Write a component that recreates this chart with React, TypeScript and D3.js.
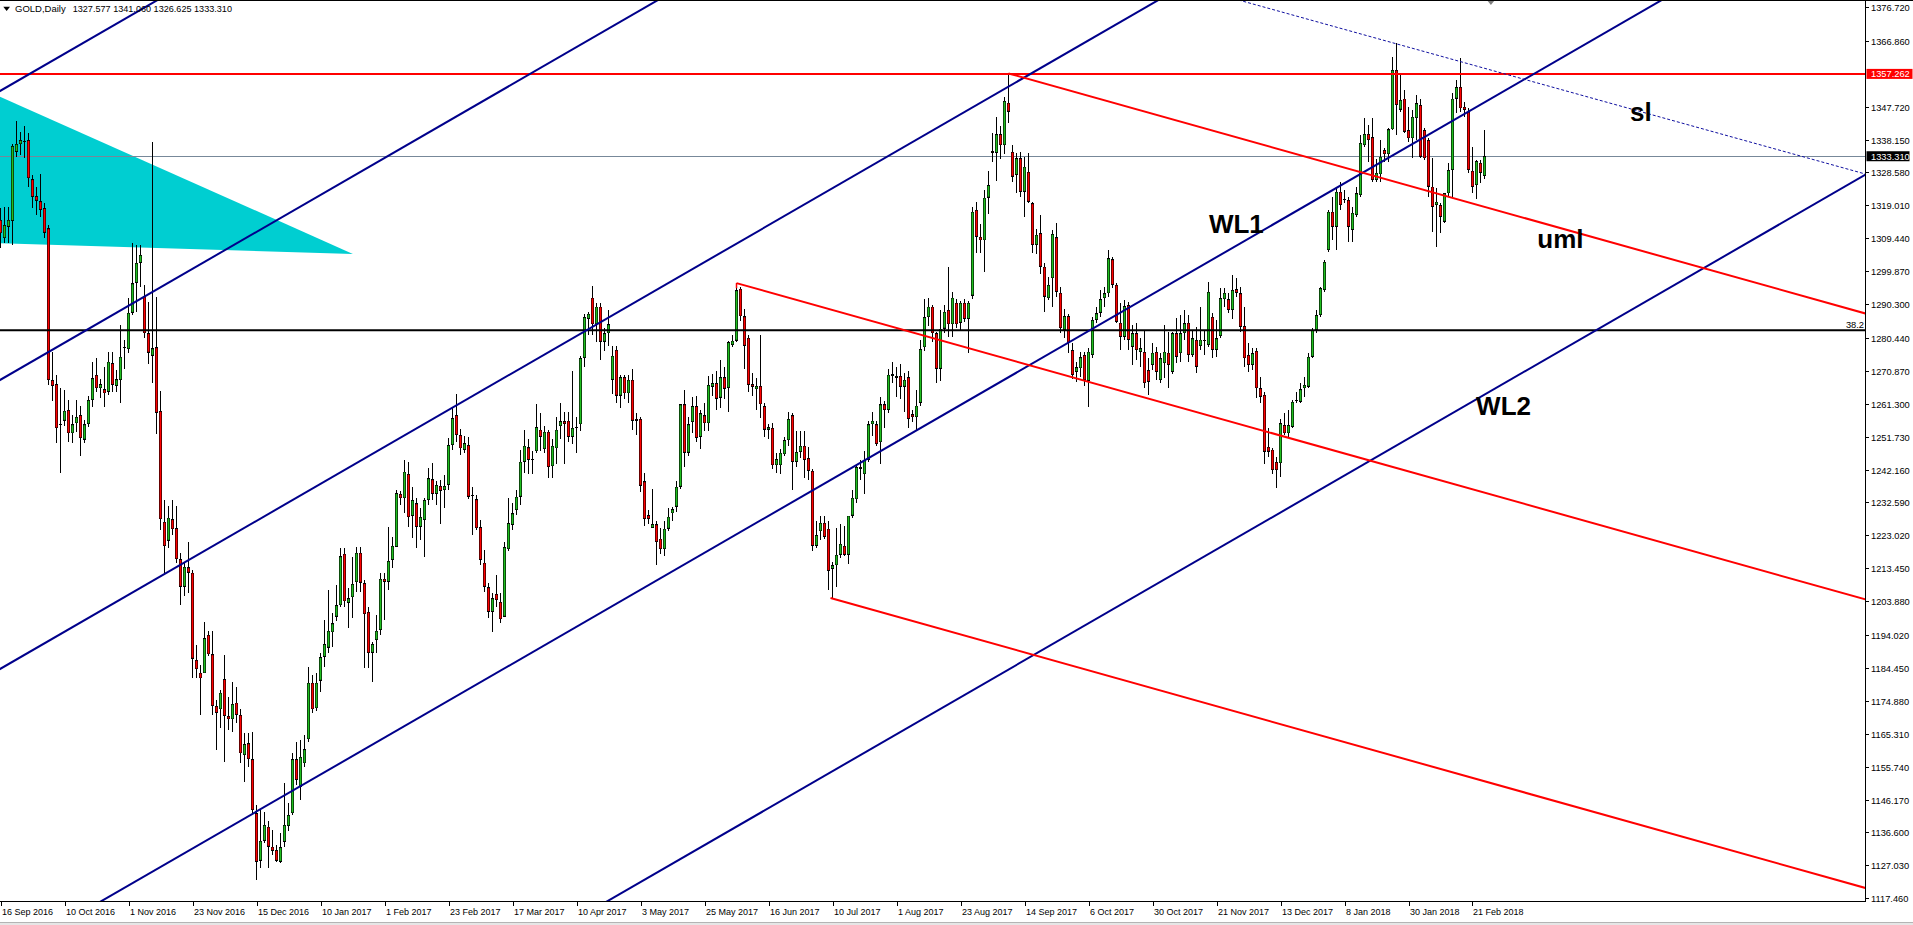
import React, { useEffect, useRef } from 'react';
import * as d3 from 'd3';

// [open, high, low, close] per daily bar
type Bar = [number, number, number, number];

const barsSepOct16: Bar[] = [
  [1314.8, 1318.2, 1306.5, 1310.9], [1309.5, 1318.5, 1308, 1313.3], [1312.8, 1318.5, 1308, 1314.8], [1314.5, 1337, 1307.5, 1336.3],
  [1334.6, 1343.7, 1333.2, 1336.9], [1336.8, 1340.4, 1333.7, 1338], [1337.4, 1342.1, 1332.8, 1337.5], [1338, 1340, 1324.5, 1326.9],
  [1326.6, 1327.9, 1318.2, 1321.5], [1321.7, 1324.5, 1316.2, 1320.4], [1320.2, 1328, 1315.7, 1317.7], [1318.2, 1319.6, 1309.4, 1311.1],
  [1312.3, 1313.3, 1266.7, 1268.2], [1268.2, 1276.5, 1262, 1266.5], [1267, 1269.7, 1249.8, 1254.2], [1255, 1265.9, 1241.3, 1255.3],
  [1256.4, 1265.3, 1254.7, 1259.3], [1259.5, 1262.4, 1250.3, 1252.7], [1252.7, 1258, 1249.8, 1255.3], [1255.6, 1262.4, 1253.2, 1257.5],
  [1258, 1260.6, 1246.1, 1251.3], [1250.9, 1256.6, 1250, 1255.3], [1255.4, 1263.5, 1254.6, 1262.4], [1262.4, 1273.6, 1260.4, 1268.7],
  [1269.7, 1274.5, 1264.8, 1265.8], [1265.8, 1268.4, 1262.9, 1267], [1265.5, 1272.1, 1260.5, 1264.3], [1264.8, 1276.5, 1263.9, 1273.6],
  [1273.1, 1276.5, 1264.8, 1266.8], [1266.5, 1271.1, 1264.8, 1268.4], [1268.2, 1284.2, 1261.4, 1275], [1277.6, 1279.9, 1271.3, 1277.4],
];

const barsNovDec16: Bar[] = [
  [1277.2, 1292, 1276, 1287.8], [1287.8, 1308, 1287.1, 1296.3], [1296.5, 1307.5, 1288.1, 1302.3], [1302.3, 1307.5, 1295.4, 1304.6],
  [1292.6, 1295.9, 1280.3, 1281.8], [1281.8, 1290.9, 1272.9, 1276.2], [1275.3, 1337.5, 1267.3, 1277.4], [1277.7, 1292.5, 1252.5, 1258.7],
  [1259.2, 1265, 1224.5, 1227.7], [1227, 1233.3, 1212, 1219.9], [1221.5, 1231.6, 1219.3, 1228.2], [1227.7, 1233.3, 1223.1, 1224.8],
  [1225.1, 1231.6, 1215, 1216.1], [1216.1, 1217.8, 1202.8, 1208.1], [1208.1, 1215.4, 1205.4, 1213.9], [1213.7, 1221.2, 1206.2, 1212.2],
  [1212.2, 1212.9, 1181.4, 1187.2], [1186.8, 1191.2, 1181.4, 1184.1], [1183.1, 1185.3, 1170.8, 1181.4], [1182.9, 1197.9, 1182.9, 1193.1],
  [1194.1, 1195.3, 1188, 1188.4], [1188.4, 1195.3, 1170.8, 1173.4], [1173.4, 1175.2, 1160.6, 1171.4], [1172.4, 1178, 1166.9, 1177.3],
  [1181.2, 1188.2, 1157.2, 1170.5], [1170.5, 1176.1, 1166.4, 1169.5], [1169.5, 1180.5, 1165.9, 1174], [1174.4, 1179, 1168.4, 1170.8],
  [1170.8, 1172.4, 1156.7, 1159.6], [1159.1, 1165.4, 1151.4, 1162.3], [1162.5, 1165.4, 1155.7, 1157.9], [1157.9, 1165.9, 1142.2, 1143.1],
];

const barsDecJan17: Bar[] = [
  [1142.2, 1144.6, 1122.8, 1128.1], [1128.4, 1143.1, 1126.2, 1134.2], [1134.2, 1142.7, 1133.5, 1138.8], [1138.3, 1139.8, 1126.2, 1132.5],
  [1132.5, 1137.3, 1130.1, 1131.3], [1131.5, 1132.9, 1128.1, 1128.4], [1128.1, 1136.4, 1127.8, 1132.3], [1133.9, 1150.9, 1132.5, 1138.8],
  [1138.5, 1145.1, 1136.9, 1141.7], [1142.2, 1159.6, 1141.7, 1157.9], [1157.9, 1163, 1150.4, 1151.9], [1149.9, 1163.5, 1146.1, 1158.6],
  [1156.7, 1165, 1155.7, 1160.8], [1163.7, 1184.8, 1163, 1180.2], [1180.2, 1182.4, 1171.3, 1172.4], [1172.7, 1182.9, 1171.8, 1180.2],
  [1180.8, 1188.7, 1177.6, 1187.6], [1187.7, 1198.4, 1184.8, 1191.4], [1190.4, 1207.1, 1188.7, 1195.3], [1194.8, 1200.4, 1190.7, 1197.4],
  [1199.4, 1208.6, 1198.2, 1202.7], [1202.7, 1219.3, 1202.3, 1216.9], [1217.7, 1219.3, 1202.3, 1203.8], [1203.4, 1207.6, 1196, 1204.7],
  [1205, 1216.8, 1198.9, 1208.9], [1209.4, 1219.7, 1206.7, 1218], [1218, 1219.7, 1206.7, 1209.3], [1209.1, 1210.1, 1184.4, 1200.1],
  [1200.8, 1202.3, 1184.4, 1188.8], [1188.9, 1192.1, 1180.5, 1191.4], [1192.6, 1199.9, 1188.7, 1195.3], [1195.5, 1212, 1194, 1210.4],
];

const barsFebMar17: Bar[] = [
  [1210.4, 1212, 1198.4, 1209.5], [1209.5, 1225.6, 1207.1, 1215.6], [1215.9, 1222.5, 1213.5, 1220], [1219.7, 1236.2, 1219.7, 1235.3],
  [1235.1, 1235.9, 1231.9, 1233.8], [1233.8, 1245, 1229.4, 1241.6], [1240.9, 1244.5, 1225.6, 1228.3], [1228.7, 1237.2, 1222.2, 1233.3],
  [1232.3, 1233.8, 1219.3, 1225.5], [1225.5, 1230.9, 1221.7, 1228.4], [1227.5, 1233.8, 1216.8, 1233.3], [1233.3, 1242.5, 1231.9, 1239.6],
  [1239.3, 1244, 1233.3, 1235.1], [1235.1, 1238.7, 1231.9, 1237.7], [1237.4, 1239.1, 1226.3, 1236], [1236.2, 1240.6, 1230.9, 1237.4],
  [1237.7, 1251.3, 1236.2, 1249.3], [1249.3, 1260, 1248, 1257.1], [1258, 1264.2, 1250.3, 1252.2], [1252.2, 1254, 1246.5, 1248.3],
  [1247.9, 1252, 1246.9, 1249.8], [1249.3, 1251.5, 1233.6, 1234.3], [1234.6, 1237.2, 1223.1, 1234.3], [1233.5, 1234.8, 1224.6, 1225.1],
  [1225.4, 1227.5, 1214.4, 1215.9], [1215.1, 1218.8, 1206.7, 1208.1], [1207.9, 1209.1, 1198.9, 1200.8], [1200.8, 1206.2, 1195, 1204.7],
  [1206, 1211.5, 1202.3, 1204.2], [1203.7, 1206.2, 1197.4, 1198.6], [1199.4, 1221.2, 1199.4, 1219.6], [1219, 1233.8, 1218.4, 1226.6],
];

const barsMarMay17: Bar[] = [
  [1226.1, 1232.3, 1224.6, 1229.4], [1230.4, 1236.2, 1228.9, 1234.3], [1234.3, 1247.9, 1232, 1244.5], [1244.4, 1253.8, 1241.3, 1249.1],
  [1248.6, 1251.2, 1240.8, 1245], [1245, 1247.6, 1240.8, 1245.2], [1247.5, 1261.3, 1247, 1254.5], [1253.8, 1258.5, 1247.6, 1251.7],
  [1248.1, 1254.8, 1247, 1253.2], [1253.2, 1253.8, 1239.7, 1242.9], [1243.1, 1251.2, 1239.7, 1249.1], [1248.3, 1257.4, 1243.9, 1253.8],
  [1254.8, 1261.6, 1251.2, 1256.2], [1256.2, 1259, 1243.9, 1255.4], [1256.4, 1259, 1250.2, 1251.7], [1251.7, 1270.9, 1249.6, 1254.3],
  [1254.3, 1257.4, 1247, 1254.4], [1255.3, 1275.1, 1253.3, 1274.6], [1274.6, 1287.5, 1272, 1286.5], [1286, 1288.1, 1281.3, 1287.5],
  [1292.2, 1295.6, 1281.3, 1284.4], [1284.4, 1290.7, 1279.2, 1289.6], [1289.6, 1290.7, 1274.1, 1279.4], [1279.4, 1283.4, 1276.6, 1281.8],
  [1281.8, 1288.6, 1278.2, 1284.4], [1268.3, 1278.2, 1264.2, 1275.3], [1277, 1278.2, 1261.6, 1263.7], [1263.7, 1269.8, 1260.1, 1269],
  [1269, 1269.8, 1262.6, 1264.3], [1264.3, 1269.8, 1261.6, 1268.3], [1268.3, 1271.4, 1253.8, 1256.4], [1256.9, 1258.5, 1252.2, 1256.4],
];

const barsMayJun17: Bar[] = [
  [1256.9, 1257.4, 1235.6, 1237.5], [1238.7, 1241.3, 1225.7, 1227.8], [1228.9, 1230.4, 1226.3, 1227.8], [1225.2, 1236.6, 1225.2, 1226.3],
  [1226.2, 1227.3, 1214.3, 1221.1], [1222.1, 1225.1, 1217.5, 1219], [1219, 1227.3, 1216.9, 1225], [1225, 1230.9, 1224.2, 1228.5],
  [1229.4, 1231.4, 1227.3, 1230.6], [1231.4, 1238.7, 1229.9, 1237.2], [1237.2, 1261.1, 1236.5, 1261.1], [1261.1, 1265.2, 1242.9, 1247.1],
  [1247.1, 1257.4, 1246, 1255.3], [1256, 1263.2, 1252.7, 1260.6], [1260.6, 1263.7, 1250.1, 1251.4], [1251.7, 1259.5, 1248.1, 1258.5],
  [1257.9, 1261.6, 1253.3, 1255.6], [1255.6, 1269.4, 1253.3, 1266.8], [1266.3, 1269.9, 1263.7, 1267.3], [1267.3, 1270.9, 1259.5, 1262.8],
  [1263.1, 1274.1, 1260.1, 1269], [1269, 1271.9, 1262.6, 1265.7], [1265.9, 1279.7, 1258.9, 1279.2], [1278.4, 1281.3, 1277.7, 1279.7],
  [1279.7, 1296.4, 1279.2, 1294.3], [1294.8, 1295.3, 1285.5, 1286.7], [1286.7, 1289, 1271.4, 1278.2], [1280.5, 1281.3, 1264.7, 1266.8],
  [1267, 1270.4, 1263.7, 1266.3], [1265.5, 1268.9, 1259.5, 1266.5], [1266.5, 1281.3, 1257.1, 1261.1], [1260.6, 1261.6, 1251.7, 1253.8],
];

const barsJunJul17: Bar[] = [
  [1253.8, 1255.3, 1251.2, 1254.5], [1254.3, 1255.8, 1242.3, 1243.4], [1243.4, 1247, 1241.3, 1245.2], [1243.4, 1248.1, 1240.8, 1247.1],
  [1246.6, 1251.7, 1246, 1250.7], [1250.7, 1259, 1249.1, 1256.9], [1257.9, 1258.5, 1236.1, 1244.4], [1244.4, 1253.3, 1242.9, 1247.3],
  [1247.3, 1253.3, 1245.5, 1249.1], [1249.1, 1253.3, 1239.8, 1245], [1245.5, 1248.6, 1239.2, 1241.8], [1241.8, 1242.3, 1218.5, 1220],
  [1220, 1227.3, 1219.5, 1223.1], [1224.2, 1228.8, 1221.6, 1226.7], [1226.7, 1228.8, 1222.1, 1222.6], [1225, 1227.3, 1207, 1212.7],
  [1213.3, 1215.4, 1204.9, 1214.3], [1214.3, 1225.2, 1208.1, 1217.4], [1217.4, 1226.3, 1216.4, 1220.6], [1220, 1225.7, 1216.9, 1217.4],
  [1217.4, 1228.8, 1214.8, 1228.8], [1228.8, 1236.1, 1228, 1234], [1233.5, 1243.9, 1232.5, 1242.9], [1242.9, 1245, 1239.2, 1242.4],
  [1240.8, 1247.5, 1235, 1245], [1245, 1256.3, 1244.4, 1255.3], [1255.3, 1259, 1251.8, 1256.4], [1255.3, 1256.3, 1249.1, 1249.6],
  [1250.1, 1263.2, 1243.9, 1261.1], [1261.1, 1262.1, 1254.3, 1259.5], [1259.5, 1271.4, 1258.5, 1269.8], [1269.4, 1273.6, 1267.3, 1269.9],
];

const barsAugSep17: Bar[] = [
  [1268.9, 1271.9, 1263.2, 1269.4], [1269.4, 1273, 1262.6, 1266.3], [1266.3, 1270.4, 1259, 1268.3], [1269, 1270.9, 1254.3, 1256.9],
  [1258.2, 1259.5, 1255.9, 1257.4], [1257.4, 1265.2, 1253.3, 1260.8], [1261.6, 1279.8, 1260.6, 1277.2], [1277.7, 1291.7, 1276.6, 1286.5],
  [1286.5, 1292.2, 1283.9, 1289.6], [1289.6, 1290.1, 1279.2, 1281.8], [1281.8, 1282.3, 1267.3, 1271.5], [1271.5, 1288.6, 1267.8, 1283.2],
  [1283.2, 1290.1, 1281.8, 1288.1], [1288.6, 1301.1, 1280.8, 1284.4], [1284.4, 1293.8, 1280.8, 1292.2], [1290.7, 1291.7, 1283.4, 1284.4],
  [1284.9, 1291.2, 1282.4, 1290.7], [1290.7, 1291.7, 1285.2, 1286], [1286, 1291.2, 1276.1, 1290.7], [1292.8, 1318.5, 1291.7, 1317.2],
  [1317.7, 1320, 1305.2, 1309.9], [1309.9, 1313.6, 1305.2, 1308.8], [1308.8, 1323.4, 1299.5, 1321.3], [1321.3, 1329.1, 1316.6, 1324.9],
  [1334.8, 1340, 1331.7, 1334.3], [1334.3, 1344.7, 1326, 1339.7], [1339.7, 1342, 1332.5, 1336.5], [1336.5, 1350.5, 1334, 1349.4],
  [1348.9, 1357.4, 1343, 1346.3], [1334.6, 1336.5, 1325.9, 1327.4], [1327.9, 1334.2, 1322.5, 1332.7], [1332.7, 1334.6, 1321.5, 1323],
];

const barsSepOct17: Bar[] = [
  [1323, 1333.2, 1315.7, 1330.3], [1328.8, 1334.2, 1319.6, 1320.1], [1319.6, 1320.1, 1305.1, 1307.5], [1307.5, 1312, 1305, 1310.5],
  [1310.9, 1316.2, 1299, 1301.2], [1301.2, 1302.2, 1288.1, 1292.5], [1292, 1298.3, 1291.5, 1295.9], [1297.8, 1311.9, 1289.6, 1310.7],
  [1309.7, 1313.8, 1292.5, 1293.9], [1293.6, 1295.4, 1281.8, 1283.3], [1282.8, 1289, 1280.5, 1286.8], [1286.8, 1287.5, 1276, 1278.9],
  [1276.9, 1279, 1268.5, 1269.7], [1270.6, 1273.5, 1267.5, 1271.9], [1271.6, 1276.5, 1269, 1274.8], [1275.5, 1276.5, 1266.5, 1268.2],
  [1268, 1277.5, 1260.5, 1276.5], [1275.5, 1286.6, 1274.5, 1285.7], [1285.7, 1289.6, 1284.7, 1287.6], [1287.8, 1294.4, 1286.6, 1291.7],
  [1292, 1295.4, 1289.6, 1293.4], [1293.4, 1306, 1292.5, 1303.6], [1303.3, 1304.1, 1294.9, 1295.9], [1295.9, 1296.3, 1284.7, 1285.2],
  [1284.9, 1290.5, 1276.9, 1280.8], [1280.8, 1291.5, 1279.9, 1289.7], [1290, 1291, 1276.9, 1279.9], [1277.9, 1284.2, 1272.6, 1281.8],
  [1281.8, 1284.7, 1274, 1276.9], [1276.4, 1280.3, 1272.1, 1277.4], [1276.4, 1282.8, 1265.8, 1267.3], [1271.1, 1274.5, 1263.9, 1267.7],
];

const barsNovDec17: Bar[] = [
  [1272.6, 1278.9, 1271.1, 1276.2], [1276.4, 1277.9, 1268.2, 1270.6], [1268.2, 1276, 1267.3, 1274.5], [1273.1, 1284.2, 1268.7, 1276.5],
  [1276.2, 1282.3, 1265.8, 1272.6], [1270.6, 1282.3, 1270.1, 1281.8], [1281.8, 1286.2, 1273.1, 1275], [1276, 1287.1, 1273.6, 1281.8],
  [1281.8, 1288.6, 1279.9, 1284.7], [1284.9, 1287.1, 1273.6, 1275.5], [1275.5, 1282.8, 1275, 1280.3], [1279.9, 1283.7, 1270.2, 1272.1],
  [1278.1, 1289.6, 1276.9, 1280], [1280, 1282.8, 1275.5, 1279.5], [1278.4, 1296.8, 1277.9, 1293.9], [1286.6, 1287.6, 1274.5, 1277],
  [1277, 1285.7, 1275, 1280.3], [1281, 1294.9, 1280.3, 1292], [1291.7, 1294.9, 1289.6, 1293.6], [1291.7, 1293.4, 1287.6, 1288.6],
  [1288.6, 1298.8, 1286.1, 1294.4], [1294.6, 1297.8, 1292.5, 1293.6], [1293.4, 1295.4, 1282.3, 1283.7], [1283.9, 1289.6, 1272.1, 1274.5],
  [1275.5, 1278.9, 1270.6, 1272.6], [1272.6, 1277.4, 1271.1, 1276], [1276.7, 1277.4, 1262.9, 1265.8], [1265.8, 1269.2, 1261.4, 1263.4],
  [1263.9, 1264.8, 1243.9, 1247.4], [1248.8, 1254.2, 1245.9, 1247.4], [1248, 1248.4, 1240.8, 1242], [1244.4, 1245.9, 1236.7, 1242],
];

const barsDecJan18: Bar[] = [
  [1244, 1257, 1240.1, 1255.6], [1255.1, 1258.5, 1252.2, 1252.7], [1252.7, 1259.5, 1251.7, 1255.1], [1254.6, 1262.4, 1254.2, 1261.9],
  [1261.9, 1264.8, 1261.4, 1262.3], [1261.9, 1267.3, 1261.4, 1265.5], [1265.8, 1269.2, 1263.4, 1266.8], [1266.3, 1276, 1265.8, 1275],
  [1275, 1283.3, 1274.5, 1282.8], [1282.8, 1288.6, 1281.8, 1287.1], [1287.1, 1295.4, 1286.6, 1294.9], [1294.4, 1303.1, 1293.9, 1302.6],
  [1306, 1317.7, 1305.6, 1317.2], [1317.2, 1321.5, 1308.9, 1312.8], [1312.8, 1324.5, 1306, 1323], [1323, 1325.9, 1317.7, 1319.1],
  [1320.6, 1323.5, 1319.6, 1320.4], [1320.6, 1321.5, 1308.5, 1312.8], [1311.9, 1318.6, 1308.5, 1316.9], [1316.2, 1324.5, 1315.7, 1322.5],
  [1322, 1339.5, 1321.5, 1337.2], [1336.5, 1344.3, 1336.1, 1339.8], [1339.8, 1342.4, 1331.7, 1338], [1338.8, 1344.3, 1325.9, 1326.4],
  [1326.4, 1332.5, 1325.9, 1328.5], [1328, 1338, 1325.9, 1333.2], [1335.1, 1335.6, 1331.7, 1333.9], [1333.9, 1341.4, 1331.7, 1341.1],
  [1341.1, 1362.3, 1340.9, 1358.4], [1358.4, 1366.2, 1339.5, 1348.2], [1346.9, 1357.4, 1346.3, 1349.7], [1350.1, 1352.6, 1340, 1340.5],
];

const barsFeb18: Bar[] = [
  [1340.9, 1347.7, 1337.5, 1338.5], [1338.5, 1346.8, 1332.7, 1344.8], [1344.4, 1351.1, 1338, 1348.7], [1348.2, 1350.1, 1332.7, 1333.2],
  [1340.9, 1341.4, 1332.2, 1332.7], [1338, 1338.5, 1321.5, 1324.5], [1324.5, 1332.7, 1311.4, 1318.6], [1319.1, 1324, 1307, 1320.1],
  [1319.1, 1319.6, 1310.9, 1315.7], [1314.3, 1322.5, 1313.8, 1322.5], [1322.5, 1331.2, 1321.5, 1329.3], [1329.3, 1351.6, 1321.5, 1350.1],
  [1350.1, 1355.5, 1345.8, 1353.4], [1353.5, 1361.8, 1346.3, 1347.2], [1347.7, 1349.2, 1344.8, 1346.8], [1346.3, 1347.2, 1328.3, 1329.3],
  [1329.1, 1336.1, 1322.5, 1324.4], [1324.9, 1332.2, 1321, 1331.9], [1331.4, 1332.2, 1325.4, 1328.5], [1327.577, 1341.06, 1326.625, 1333.31],
];

const dateLabels = [
  '16 Sep 2016', '10 Oct 2016', '1 Nov 2016', '23 Nov 2016', '15 Dec 2016', '10 Jan 2017', '1 Feb 2017', '23 Feb 2017',
  '17 Mar 2017', '10 Apr 2017', '3 May 2017', '25 May 2017', '16 Jun 2017', '10 Jul 2017', '1 Aug 2017', '23 Aug 2017',
  '14 Sep 2017', '6 Oct 2017', '30 Oct 2017', '21 Nov 2017', '13 Dec 2017', '8 Jan 2018', '30 Jan 2018', '21 Feb 2018',
];
const barsPerDateLabel = 16;

const priceLabels = [
  '1376.720', '1366.860', '1347.720', '1338.150', '1328.580', '1319.010', '1309.440', '1299.870', '1290.300',
  '1280.440', '1270.870', '1261.300', '1251.730', '1242.160', '1232.590', '1223.020', '1213.450', '1203.880',
  '1194.020', '1184.450', '1174.880', '1165.310', '1155.740', '1146.170', '1136.600', '1127.030', '1117.460',
];

const header = { symbol: 'GOLD,Daily', ohlc: '1327.577 1341.060 1326.625 1333.310' };
const bidPrice = 1333.31;
const resistanceLevel = 1357.262;
const fibLevel = 1282.7;
const fibLabel = '38.2';

// blue parallel channel: price at bar 0 for each line, shared rise per bar
const blueChannelStarts = [1352.37, 1268.31, 1184.25, 1099.7, 1014.68];
const blueChannelSlope = 0.6719;

// red rays: [start bar, start price], shared fall per bar
const redRayStarts: [number, number][] = [[252, 1357.4], [184, 1296.4], [207.5, 1204.8]];
const redRaySlope = -0.326;

// dotted "sl" line through the two tops
const slAnchor: [number, number] = [349, 1366.0];
const slSlope = -0.323;

const cyanTriangle: [number, number][] = [[-1, 1351.08], [88.1, 1304.9], [-1, 1308.03]];

const notes = [
  { text: 'WL1', bar: 302.1, price: 1311.0 },
  { text: 'WL2', bar: 368.9, price: 1258.05 },
  { text: 'uml', bar: 384.2, price: 1306.5 },
  { text: 'sl', bar: 407.4, price: 1343.65 },
];

const W = 1913;
const H = 925;
const plotRight = 1865;
const plotBottom = 901;
const bull = '#1fbf1f';
const bear = '#ff0000';
const navy = '#00008b';
const font = '"Liberation Sans", Arial, sans-serif';

const App: React.FC = () => {
  const svgRef = useRef<SVGSVGElement>(null);

  useEffect(() => {
    const bars: Bar[] = [
      ...barsSepOct16, ...barsNovDec16, ...barsDecJan17, ...barsFebMar17, ...barsMarMay17, ...barsMayJun17,
      ...barsJunJul17, ...barsAugSep17, ...barsSepOct17, ...barsNovDec17, ...barsDecJan18, ...barsFeb18,
    ];
    const last = bars.length - 1;

    const x = d3.scaleLinear().domain([0, last]).range([0.5, 4 * last + 0.5]);
    const y = d3.scaleLinear().domain([1117.46, 1376.72]).range([898.3, 7]);
    const farLeft = -20;
    const farRight = x.invert(plotRight) + 10;

    const svg = d3.select(svgRef.current);
    svg.selectAll('*').remove();

    svg.append('rect').attr('width', W).attr('height', H).attr('fill', '#ffffff');

    svg.append('defs').append('clipPath').attr('id', 'plot')
      .append('rect').attr('x', 0).attr('y', 1).attr('width', plotRight).attr('height', plotBottom - 1);

    const g = svg.append('g').attr('clip-path', 'url(#plot)');

    // cyan triangle sits behind the candles
    g.append('path')
      .attr('d', d3.line<[number, number]>().x(d => x(d[0])).y(d => y(d[1]))(cyanTriangle) + 'Z')
      .attr('fill', '#00ced1');

    g.append('line')
      .attr('x1', 0).attr('x2', plotRight)
      .attr('y1', Math.round(y(bidPrice)) + 0.5).attr('y2', Math.round(y(bidPrice)) + 0.5)
      .attr('stroke', '#778899').attr('stroke-width', 1);

    // candles
    const candles = g.append('g');
    bars.forEach((b, i) => {
      const [o, h, l, c] = b;
      const cx = x(i);
      const hi = Math.max(h, o, c);
      const lo = Math.min(l, o, c);
      candles.append('line')
        .attr('x1', cx).attr('x2', cx)
        .attr('y1', y(hi)).attr('y2', y(lo))
        .attr('stroke', '#000').attr('stroke-width', 1)
        .attr('shape-rendering', 'crispEdges');
      const top = y(Math.max(o, c));
      const bh = Math.abs(y(o) - y(c));
      if (bh < 1.5) {
        candles.append('rect')
          .attr('x', cx - 1.5).attr('y', top - 0.5).attr('width', 3).attr('height', 1)
          .attr('fill', '#000').attr('shape-rendering', 'crispEdges');
        return;
      }
      candles.append('rect')
        .attr('x', cx - 1.5).attr('y', top).attr('width', 3).attr('height', bh)
        .attr('fill', '#000').attr('shape-rendering', 'crispEdges');
      candles.append('rect')
        .attr('x', cx - 0.9).attr('y', top + 0.8).attr('width', 1.8).attr('height', Math.max(0, bh - 1.6))
        .attr('fill', c >= o ? bull : bear);
    });

    // horizontal levels
    g.append('line')
      .attr('x1', 0).attr('x2', plotRight)
      .attr('y1', y(resistanceLevel)).attr('y2', y(resistanceLevel))
      .attr('stroke', '#ff0000').attr('stroke-width', 2);
    g.append('line')
      .attr('x1', 0).attr('x2', plotRight)
      .attr('y1', y(fibLevel)).attr('y2', y(fibLevel))
      .attr('stroke', '#000').attr('stroke-width', 2);

    // blue channel
    blueChannelStarts.forEach(p0 => {
      g.append('line')
        .attr('x1', x(farLeft)).attr('y1', y(p0 + blueChannelSlope * farLeft))
        .attr('x2', x(farRight)).attr('y2', y(p0 + blueChannelSlope * farRight))
        .attr('stroke', navy).attr('stroke-width', 2);
    });

    // red rays
    redRayStarts.forEach(([b0, p0], k) => {
      g.append('line')
        .attr('x1', x(b0)).attr('y1', y(p0))
        .attr('x2', x(farRight)).attr('y2', y(p0 + redRaySlope * (farRight - b0)))
        .attr('stroke', '#ff0000').attr('stroke-width', 2);
      if (k === 1) {
        g.append('line')
          .attr('x1', x(b0)).attr('x2', x(b0))
          .attr('y1', y(p0)).attr('y2', y(p0) + 5)
          .attr('stroke', '#ff0000').attr('stroke-width', 1.5);
      }
    });

    // dotted sl line
    const slFrom = slAnchor[0] - 60;
    g.append('line')
      .attr('x1', x(slFrom)).attr('y1', y(slAnchor[1] + slSlope * (slFrom - slAnchor[0])))
      .attr('x2', x(farRight)).attr('y2', y(slAnchor[1] + slSlope * (farRight - slAnchor[0])))
      .attr('stroke', '#1010a0').attr('stroke-width', 1).attr('stroke-dasharray', '3,2');

    g.append('text')
      .attr('x', plotRight - 1).attr('y', y(fibLevel) - 2.5)
      .attr('text-anchor', 'end')
      .attr('font-family', font).attr('font-size', 9.3).attr('fill', '#000')
      .text(fibLabel);

    notes.forEach(n => {
      g.append('text')
        .attr('x', x(n.bar)).attr('y', y(n.price))
        .attr('font-family', font).attr('font-size', 26).attr('font-weight', 'bold')
        .attr('fill', '#000')
        .text(n.text);
    });

    // chart shift marker
    const shiftX = x(last + 1.6);
    svg.append('path')
      .attr('d', `M${shiftX - 4},0L${shiftX + 4},0L${shiftX},5Z`)
      .attr('fill', '#808080');

    // frame and axes
    const frame = svg.append('g').attr('shape-rendering', 'crispEdges');
    frame.append('line').attr('x1', 0).attr('x2', W).attr('y1', 0.5).attr('y2', 0.5).attr('stroke', '#000');
    frame.append('line').attr('x1', plotRight + 0.5).attr('x2', plotRight + 0.5).attr('y1', 0).attr('y2', plotBottom + 1).attr('stroke', '#000');
    frame.append('line').attr('x1', 0).attr('x2', plotRight + 1).attr('y1', plotBottom + 0.5).attr('y2', plotBottom + 0.5).attr('stroke', '#000');
    frame.append('line').attr('x1', 0).attr('x2', W).attr('y1', 922.5).attr('y2', 922.5).attr('stroke', '#b4b4b4');
    frame.append('rect').attr('x', 0).attr('y', 923).attr('width', W).attr('height', 2).attr('fill', '#e6e6e6');

    // price axis
    priceLabels.forEach(lbl => {
      const yy = Math.round(y(+lbl)) + 0.5;
      frame.append('line')
        .attr('x1', plotRight).attr('x2', plotRight + 3.5)
        .attr('y1', yy).attr('y2', yy).attr('stroke', '#000');
      svg.append('text')
        .attr('x', plotRight + 6).attr('y', yy + 3.3)
        .attr('font-family', font).attr('font-size', 9.3).attr('fill', '#000')
        .text(lbl);
    });

    const tag = (value: number, label: string, bg: string, w: number) => {
      const yy = y(value);
      svg.append('rect')
        .attr('x', plotRight + 1.5).attr('y', yy - 5).attr('width', w).attr('height', 10)
        .attr('fill', bg);
      svg.append('text')
        .attr('x', plotRight + 6).attr('y', yy + 3.3)
        .attr('font-family', font).attr('font-size', 9.3).attr('fill', '#fff')
        .text(label);
    };
    tag(resistanceLevel, resistanceLevel.toFixed(3), '#ff0000', 46);
    tag(bidPrice, bidPrice.toFixed(3), '#000000', 43);

    // date axis
    dateLabels.forEach((lbl, k) => {
      const xx = Math.round(x(k * barsPerDateLabel)) + 0.5;
      frame.append('line')
        .attr('x1', xx).attr('x2', xx)
        .attr('y1', plotBottom).attr('y2', plotBottom + 4.5).attr('stroke', '#000');
      svg.append('text')
        .attr('x', xx + 0.5).attr('y', 914.5)
        .attr('font-family', font).attr('font-size', 9).attr('fill', '#000')
        .text(lbl);
    });

    // header
    svg.append('path').attr('d', 'M3.3,6.7L10,6.7L6.65,11Z').attr('fill', '#000');
    svg.append('text')
      .attr('x', 15).attr('y', 11.7)
      .attr('font-family', font).attr('font-size', 9.5).attr('fill', '#000')
      .text(header.symbol);
    svg.append('text')
      .attr('x', 72.7).attr('y', 11.7)
      .attr('font-family', font).attr('font-size', 9.1).attr('fill', '#000')
      .text(header.ohlc);
  }, []);

  return (
    <svg
      ref={svgRef}
      width={W}
      height={H}
      style={{ position: 'absolute', left: 0, top: 0, display: 'block' }}
    />
  );
};

export default App;
